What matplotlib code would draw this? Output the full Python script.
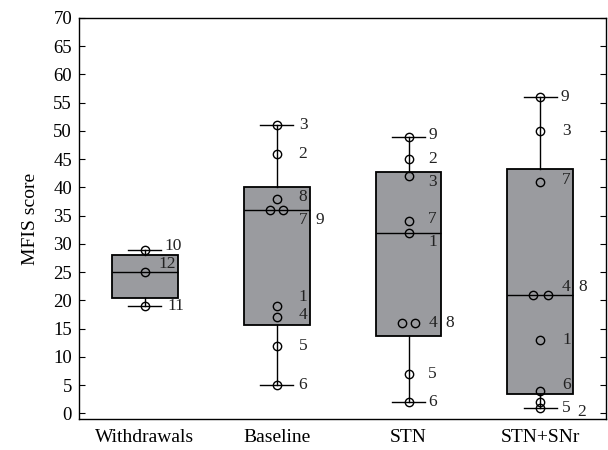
import matplotlib
matplotlib.use("Agg")
import matplotlib.pyplot as plt

plt.rcParams["font.family"] = ["Liberation Serif", "DejaVu Serif"]
plt.rcParams["font.size"] = 13

# ── Data ────────────────────────────────────────────────────────────────────
groups = ["Withdrawals", "Baseline", "STN", "STN+SNr"]

withdrawals_vals = [29, 25, 19]
withdrawals_ids = [10, 12, 11]
baseline_vals = [51, 46, 38, 36, 36, 19, 17, 12, 5]
baseline_ids = [3, 2, 8, 7, 9, 1, 4, 5, 6]
stn_vals = [49, 45, 42, 34, 32, 16, 16, 7, 2]
stn_ids = [9, 2, 3, 7, 1, 4, 8, 5, 6]
stnsnr_vals = [56, 50, 41, 21, 21, 13, 4, 2, 1]
stnsnr_ids = [9, 3, 7, 4, 8, 1, 6, 5, 2]

# box statistics as drawn in the original
q1 = [20.5, 15.7, 13.7, 3.5]
med = [25, 36, 32, 21]
q3 = [28, 40, 42.7, 43.3]
whislo = [19, 5, 2, 1]
whishi = [29, 51, 49, 56]

# ── Layout of point markers / labels (axis units, relative to box centre) ──
point_dx = [
    [0, 0, 0],
    [0, 0, 0, -0.05, 0.05, 0, 0, 0, 0],
    [0, 0, 0, 0, 0, -0.05, 0.05, 0, 0],
    [0, 0, 0, -0.055, 0.055, 0, 0, 0, 0],
]
label_dx = [
    [0.15, 0.105, 0.17],
    [0.167, 0.167, 0.167, 0.167, 0.295, 0.167, 0.167, 0.167, 0.167],
    [0.15, 0.15, 0.15, 0.15, 0.15, 0.15, 0.28, 0.15, 0.15],
    [0.15, 0.165, 0.165, 0.16, 0.29, 0.165, 0.165, 0.165, 0.28],
]
label_dy = [
    [0.6, 1.4, 0],
    [0, 0, 0.3, -1.8, -1.8, 1.6, 0.4, 0, 0],
    [0.2, 0, -1.0, 0.4, -1.6, 0, 0, 0, 0],
    [0, 0, 0.3, 1.4, 1.4, 0, 1.1, -1.0, -0.8],
]

all_vals = [withdrawals_vals, baseline_vals, stn_vals, stnsnr_vals]
all_ids = [withdrawals_ids, baseline_ids, stn_ids, stnsnr_ids]

BOX_GREY = "#9a9b9f"

fig = plt.figure(figsize=(6.08, 4.5), dpi=100)
ax = fig.add_axes([0.130, 0.069, 0.867, 0.891])

stats = []
for i, name in enumerate(groups):
    stats.append({
        "label": name, "q1": q1[i], "med": med[i], "q3": q3[i],
        "whislo": whislo[i], "whishi": whishi[i], "fliers": [],
    })

positions = list(range(1, len(groups) + 1))
ax.bxp(
    stats, positions=positions, widths=0.5, capwidths=0.25,
    patch_artist=True, showfliers=False,
    boxprops=dict(facecolor=BOX_GREY, edgecolor="black", linewidth=1.3),
    medianprops=dict(color="black", linewidth=1.0),
    whiskerprops=dict(color="black", linewidth=1.0),
    capprops=dict(color="black", linewidth=1.0),
)

for i, pos in enumerate(positions):
    vals = all_vals[i]
    ids = all_ids[i]
    xs = [pos + d for d in point_dx[i]]
    ax.plot(xs, vals, "o", mfc="none", mec="black", ms=6, mew=1.0,
            zorder=4)
    for j, (v, pid) in enumerate(zip(vals, ids)):
        ax.text(pos + label_dx[i][j], v + label_dy[i][j], str(pid),
                ha="left", va="center", fontsize=12.5, color="#222222",
                zorder=5)

ax.set_xlim(0.5, 4.5)
ax.set_ylim(-1, 70)
ax.set_yticks(range(0, 71, 5))
ax.set_xticks(positions)
ax.set_xticklabels(groups, fontsize=14)
ax.tick_params(axis="x", length=0, pad=7)
ax.tick_params(axis="y", direction="in", length=4, right=True, labelright=False,
               pad=5, labelsize=13.5)
ax.set_ylabel("MFIS score", fontsize=14, labelpad=10)
for sp in ax.spines.values():
    sp.set_linewidth(1.0)

fig.savefig("out.png", dpi=100)
